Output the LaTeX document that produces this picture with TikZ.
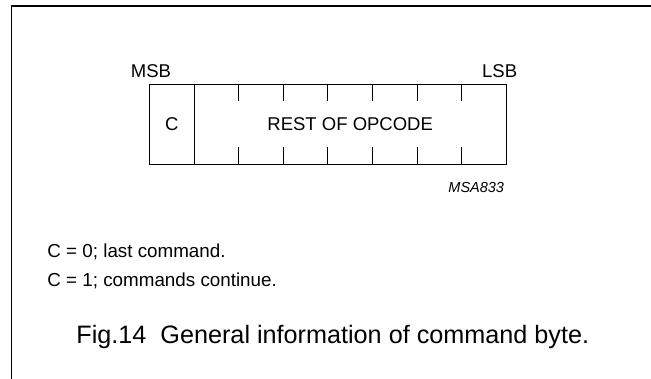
\documentclass[tikz,border=0pt]{standalone}
\usepackage{fontspec}
\setmainfont{Liberation Sans}
\usepackage{tikz}

\begin{document}
\begin{tikzpicture}[x=1pt,y=-1pt,line width=0.9pt]
  \tikzstyle{lbl}=[inner sep=0pt,font=\fontsize{18.5}{20}\selectfont]
  \tikzstyle{note}=[inner sep=0pt,anchor=base west,font=\fontsize{18.8}{22}\selectfont]
  \tikzstyle{cell}=[draw,rectangle,inner sep=0pt,outer sep=0pt,minimum height=80pt,font=\fontsize{18.5}{20}\selectfont]
  \useasboundingbox (0,0) rectangle (651,379);
  \draw[line width=1.6pt] (11.5,379) -- (11.5,6) -- (651,6);
    \node [cell,minimum width=44.6pt] (cbit) at (171.8,124.3) {C};
    \node [cell,minimum width=312.2pt,anchor=west] (rest) at (cbit.east) {REST OF OPCODE};
    \foreach \i in {1,...,6}{
      \draw ([xshift=\i*44.6pt]rest.north west) -- ++(0,17);
      \draw ([xshift=\i*44.6pt]rest.south west) -- ++(0,-17);
    }
    \node [lbl,anchor=base west] (msb) at (130.4,77.3) {MSB};
    \node [lbl,anchor=base east] (lsb) at (517.6,77.3) {LSB};
    \node [inner sep=0pt,anchor=base east,font=\fontsize{14.5}{16}\selectfont\itshape] (code) at (504.5,192.7) {MSA833};
    \node [note] (c0) at (47,258) {C = 0; last command.};
    \node [note] (c1) at (47,286.5) {C = 1; commands continue.};
    \node [inner sep=0pt,anchor=base west,font=\fontsize{25.2}{28}\selectfont] (fig) at (76,344) {Fig.14\ \ General information of command byte.};
\end{tikzpicture}
\end{document}
